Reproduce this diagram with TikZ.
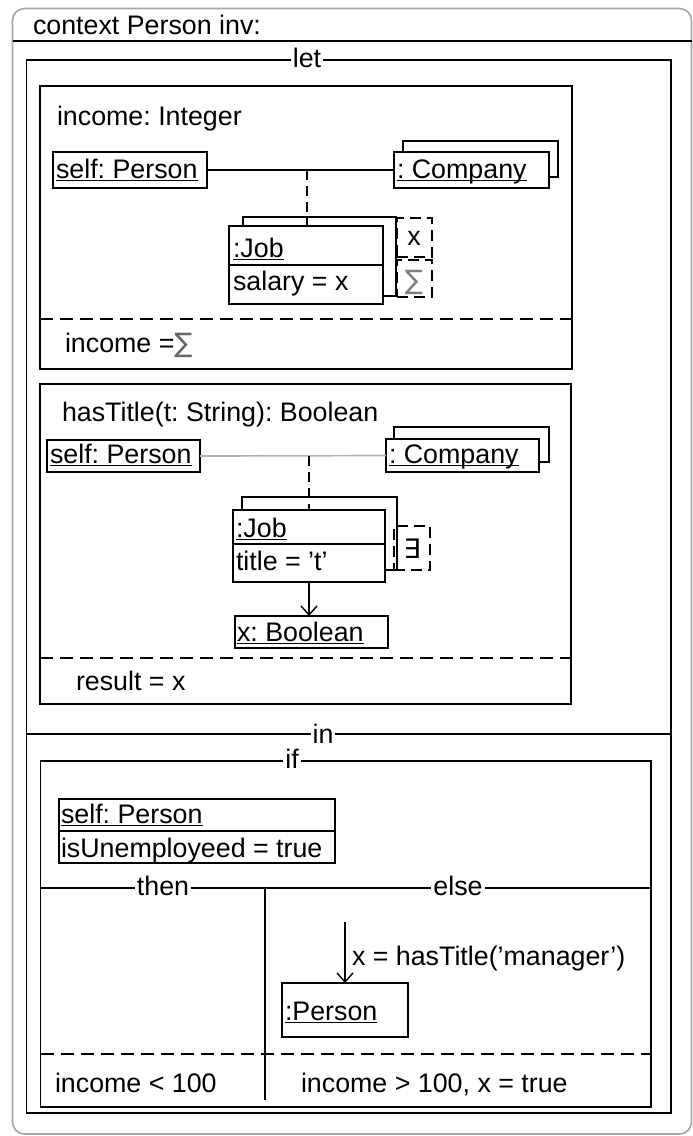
\documentclass[tikz,border=0pt]{standalone}
\usepackage{fontspec}
\setmainfont{Liberation Sans}
\newfontfamily\symf{DejaVu Sans}
\usetikzlibrary{arrows.meta,fit}
\newlength\ulw
\newcommand\ulx[1]{\leavevmode\setbox0\hbox{#1}\ulw=\wd0\rlap{\box0}\rule[-3pt]{\ulw}{1.1pt}}
\tikzset{
  every node/.style={font=\fontsize{26.8}{30}\selectfont\frenchspacing, inner sep=0pt, outer sep=0pt},
  lbl/.style={anchor=base west},
  sym/.style={anchor=base},
  box/.style={draw, line width=1.4pt, fill=white},
  frm/.style={line width=1.4pt},
  dsh/.style={line width=1.4pt, dash pattern=on 13pt off 7pt},
  vdsh/.style={line width=1.4pt, dash pattern=on 10pt off 6pt},
  bdsh/.style={draw, line width=1.4pt, dash pattern=on 11pt off 6pt},
  tag/.style={anchor=base, fill=white, inner xsep=2pt, inner ysep=2pt},
  arr/.style={line width=1.4pt, -{Straight Barb[length=9pt,width=16pt]}},
}
\begin{document}
\frenchspacing
\begin{tikzpicture}[x=1pt,y=-1pt]
\useasboundingbox (0,0) rectangle (693,1136);
% outer frame
\draw[gray!70, line width=1.6pt, rounded corners=12pt] (12.5,8.5) rectangle (691.5,1134);
\draw[frm] (12.5,41) -- (691.5,41);
\node[lbl] (ctx) at (33,34) {context Person inv:};
% let / in frame
\draw[frm] (26.5,60) rectangle (671,1113);
\node[tag] (letlbl) at (307,67) {let};
\draw[frm] (26.5,734) -- (671,734);
\node[tag] (inlbl) at (323,743) {in};

% ---------- income frame
\draw[frm] (40,86) rectangle (572,369);
\node[lbl] (inct) at (57,125) {income: Integer};
\node[box, fit={(403,141) (558,177)}] (comp1b) {};
\node[box, fit={(394,152) (549,188)}] (comp1) {};
\node[lbl] (comp1t) at (397,178) {\ulx{: Company}};
\node[box, fit={(53,152) (207,188)}] (self1) {};
\node[lbl] (self1t) at (56,178) {\ulx{self: Person}};
\draw[frm] (self1.east) -- (comp1.west);
\node[box, fit={(243,217) (396,296)}] (job1b) {};
\node[box, fit={(229,226) (383,304)}] (job1) {};
\draw[frm] (job1.west |- 0,265) -- (job1.east |- 0,265);
\node[lbl] (job1t) at (233,257) {\ulx{:Job}};
\node[lbl] (job1a) at (233,290) {salary = x};
\coordinate (jn1) at (307,170);
\draw[vdsh] (jn1) -- (jn1 |- job1.north);
\node[bdsh, fit={(397,218) (432,257)}] (xb1) {};
\node[sym] (xb1t) at (414,245) {x};
\node[bdsh, fit={(397,260) (432,297)}] (sb1) {};
\node[sym] (sb1t) at (414,289) {\color{gray}\symf ∑};
\draw[dsh] (40,319) -- (572,319);
\node[lbl] (incr) at (65,352) {income =\textcolor{gray!80!black}{\symf ∑}};

% ---------- hasTitle frame
\draw[frm] (40,384) rectangle (571,704);
\node[lbl] (htt) at (62,421) {hasTitle(t: String): Boolean};
\node[box, fit={(394,427) (549,462)}] (comp2b) {};
\node[box, fit={(386,439) (539,472)}] (comp2) {};
\node[lbl] (comp2t) at (389,463) {\ulx{: Company}};
\node[box, fit={(47,440) (200,472)}] (self2) {};
\node[lbl] (self2t) at (50,463) {\ulx{self: Person}};
\draw[gray!60, line width=1.7pt] (self2.east) -- (comp2.west);
\node[box, fit={(242,497) (397,570)}] (job2b) {};
\node[box, fit={(233,510) (385,582)}] (job2) {};
\draw[frm] (job2.west |- 0,544) -- (job2.east |- 0,544);
\node[lbl] (job2t) at (236,537) {\ulx{:Job}};
\node[lbl] (job2a) at (236,570) {title = ’t’};
\coordinate (jn2) at (309,456);
\draw[vdsh] (jn2) -- (jn2 |- job2.north);
\node[bdsh, fit={(394,526) (430,570)}] (eb2) {};
\node[sym] (eb2t) at (412,558) {\symf ∃};
\node[box, fit={(235,616) (388,648)}] (xb) {};
\node[lbl] (xbt) at (237,641) {\ulx{x: Boolean}};
\draw[arr] (job2.south) -- (job2.south |- xb.north);
\draw[dsh] (40,658) -- (571,658);
\node[lbl] (res) at (76,690) {result = x};

% ---------- if frame
\draw[frm] (40.7,761) rectangle (651,1107);
\node[tag] (iflbl) at (292,768) {if};
\node[box, fit={(59,799) (335,863)}] (cond) {};
\draw[frm] (cond.west |- 0,831) -- (cond.east |- 0,831);
\node[lbl] (condt) at (61,823) {\ulx{self: Person}};
\node[lbl] (conda) at (61,857) {isUnemployeed = true};
\draw[frm] (40.7,888) -- (651,888);
\draw[frm] (265,888) -- (265,1100);
\node[tag] (thenlbl) at (163,895) {then};
\node[tag] (elselbl) at (458,895) {else};
\node[box, fit={(282,983) (408,1037)}] (pers) {};
\node[lbl] (perst) at (285,1020) {\ulx{:Person}};
\coordinate (ea) at (345,922);
\draw[arr] (ea) -- (ea |- pers.north);
\node[lbl] (eal) at (352,965) {x = hasTitle(’manager’)};
\draw[dsh] (40.7,1054) -- (651,1054);
\node[lbl] (thenr) at (55,1092) {income < 100};
\node[lbl] (elser) at (301,1092) {income > 100, x = true};
\end{tikzpicture}
\end{document}
